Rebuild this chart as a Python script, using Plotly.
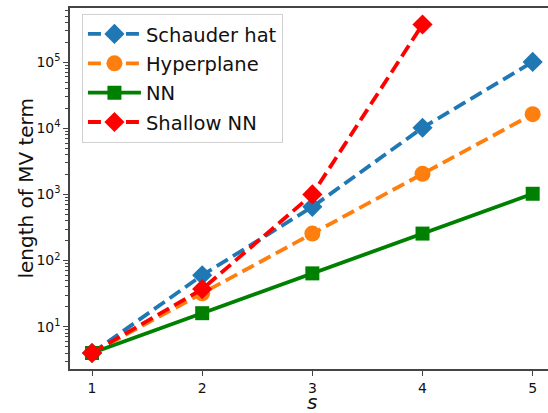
import plotly.graph_objects as go

s_values = [1, 2, 3, 4, 5]
schauder_hat = [4, 60, 650, 10200, 101000]
hyperplane = [4, 32, 256, 2048, 16384]
nn = [4, 16, 64, 256, 1024]
shallow_s = [1, 2, 3, 4]
shallow_nn = [4, 37, 1000, 372000]

y_major = [10, 100, 1000, 10000, 100000]
y_major_text = ["10<sup>1</sup>", "10<sup>2</sup>", "10<sup>3</sup>", "10<sup>4</sup>", "10<sup>5</sup>"]
x_ticks = [1, 2, 3, 4, 5]
y_minor = [m * 10 ** k for k in range(0, 6) for m in range(2, 10)]

fig = go.Figure()
series = [
    ("Schauder hat", s_values, schauder_hat, "#1f77b4", "13px,6px", "diamond", 15.5),
    ("Hyperplane", s_values, hyperplane, "#ff7f0e", "13px,6px", "circle", 16),
    ("NN", s_values, nn, "#008000", "solid", "square", 14),
    ("Shallow NN", shallow_s, shallow_nn, "#ff0000", "13px,6px", "diamond", 15.5),
]
for name, xs, ys, color, dash, sym, size in series:
    fig.add_trace(go.Scatter(
        x=xs, y=ys, name=name, mode="lines+markers", legendgroup=name,
        line=dict(color=color, width=3.8, dash=dash),
        marker=dict(symbol=sym, size=size, color=color, line=dict(width=0)),
    ))

axis_color = "#444444"
fig.update_layout(
    width=548, height=413,
    margin=dict(l=70, r=0, t=8, b=44, autoexpand=False),
    paper_bgcolor="white", plot_bgcolor="white",
    font=dict(family="DejaVu Sans", color="#111111"),
    showlegend=True,
    legend=dict(
        x=0.025, y=0.984, xanchor="left", yanchor="top",
        bgcolor="rgba(255,255,255,0.8)", bordercolor="#d0d0d0", borderwidth=1,
        font=dict(size=19.5, family="DejaVu Sans", color="#111111"),
        tracegroupgap=1, itemwidth=53,
    ),
    xaxis=dict(
        range=[0.8, 5.139], tickvals=x_ticks, ticktext=[str(v) for v in x_ticks],
        automargin=False,
        showgrid=False, zeroline=False, showline=True, linecolor=axis_color, linewidth=1.5,
        mirror=True, ticks="outside", ticklen=5, tickwidth=1, tickcolor=axis_color,
        tickfont=dict(size=14, family="DejaVu Sans"),
    ),
    yaxis=dict(
        type="log", range=[0.36, 5.82], tickvals=y_major, ticktext=y_major_text,
        automargin=False,
        showgrid=False, zeroline=False, showline=True, linecolor=axis_color, linewidth=1.5,
        ticks="outside", ticklen=5, tickwidth=1, tickcolor=axis_color,
        tickfont=dict(size=14, family="DejaVu Sans"),
        minor=dict(tickvals=y_minor, ticks="outside", ticklen=3, tickwidth=0.8, tickcolor=axis_color, showgrid=False),
    ),
    annotations=[
        dict(text="length of MV term", xref="paper", yref="paper", x=-0.094, y=0.5,
             xanchor="center", yanchor="middle", textangle=-90, showarrow=False,
             font=dict(size=20, family="DejaVu Sans", color="#111111")),
        dict(text="<i>s</i>", xref="paper", yref="paper", x=0.506, y=-0.091,
             xanchor="center", yanchor="middle", showarrow=False,
             font=dict(size=20, family="DejaVu Sans", color="#111111")),
    ],
)

fig.write_html("out.html", config={"displayModeBar": False},
               post_script="document.body.style.margin='0';document.body.style.overflow='hidden';")
